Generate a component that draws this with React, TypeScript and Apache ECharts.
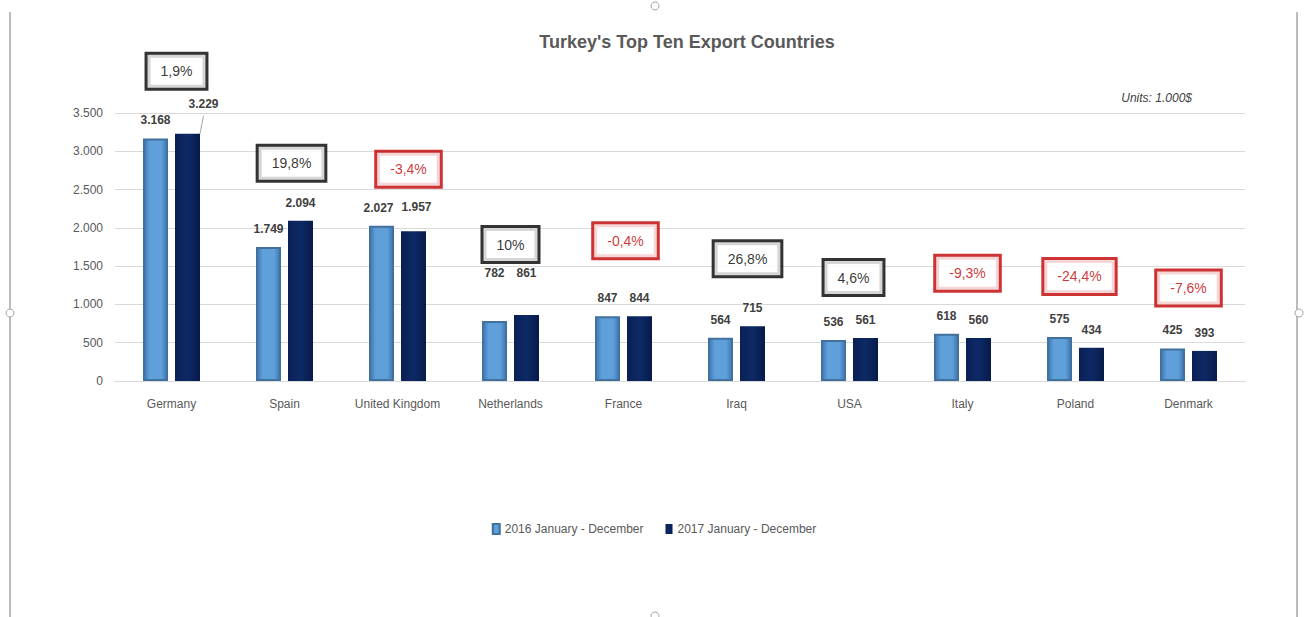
import React, { useEffect, useRef } from "react";
import * as echarts from "echarts";

const categories = ["Germany", "Spain", "United Kingdom", "Netherlands", "France", "Iraq", "USA", "Italy", "Poland", "Denmark"];
const values2016 = [3168, 1749, 2027, 782, 847, 564, 536, 618, 575, 425];
const values2017 = [3229, 2094, 1957, 861, 844, 715, 561, 560, 434, 393];
const changePct = [1.9, 19.8, -3.4, 10, -0.4, 26.8, 4.6, -9.3, -24.4, -7.6];
const yTicks = [0, 500, 1000, 1500, 2000, 2500, 3000, 3500];
const seriesNames = ["2016 January - December", "2017 January - December"];
const titleText = "Turkey's Top Ten Export Countries";
const unitsText = "Units: 1.000$";

const FONT = "'Liberation Sans', Arial, sans-serif";
const BOX_LIFT = 790; // value units above taller bar for the change box
const RED = "#c00000";

// style nudges for individual labels / boxes (pixels)
const labelNudge2016: Record<number, [number, number]> = { 3: [0, -30], 2: [-3, 0] };
const labelNudge2017: Record<number, [number, number]> = { 3: [0, -24], 0: [16, -12], 2: [3, -6] };
const boxNudge: Record<number, [number, number]> = {
  0: [5, -2], 1: [7, 3], 2: [11, 4], 3: [0, -10], 4: [2, -15], 5: [11, -7], 6: [4, 0], 7: [5, 0], 8: [4, 0],
};

function fmtThousands(v: number): string {
  if (v >= 1000) return `${Math.floor(v / 1000)}.${String(v % 1000).padStart(3, "0")}`;
  return String(v);
}
function fmtPct(v: number): string {
  return (Number.isInteger(v) ? String(v) : v.toFixed(1).replace(".", ",")) + "%";
}

export default function App() {
  const ref = useRef<HTMLDivElement>(null);
  useEffect(() => {
    document.body.style.margin = "0";
    const chart = echarts.init(ref.current!, null, { renderer: "svg" });
    const lightColor = new echarts.graphic.LinearGradient(0, 0, 1, 0, [
      { offset: 0, color: "#3c78b4" },
      { offset: 0.25, color: "#5f9fda" },
      { offset: 0.75, color: "#5f9fda" },
      { offset: 1, color: "#3c78b4" },
    ]);
    const darkColor = new echarts.graphic.LinearGradient(0, 0, 1, 0, [
      { offset: 0, color: "#0a1f55" },
      { offset: 0.5, color: "#0d2a66" },
      { offset: 1, color: "#071a4a" },
    ]);
    const labelBase = {
      show: true,
      position: "top" as const,
      distance: 12,
      color: "#404040",
      fontWeight: "bold" as const,
      fontSize: 12,
      fontFamily: FONT,
      formatter: (p: any) => fmtThousands(p.value),
    };
    const mk = (vals: number[], nudges: Record<number, [number, number]>) =>
      vals.map((v, i) => {
        const item: any = { value: v };
        if (nudges[i]) {
          item.label = { offset: nudges[i] };
        }
        return item;
      });
    const d17 = mk(values2017, labelNudge2017);
    d17[0].labelLine = { show: true };

    const boxData = categories.map((c, i) => {
      const neg = changePct[i] < 0;
      const col = neg ? RED : "#000000";
      return {
        value: Math.max(values2016[i], values2017[i]) + BOX_LIFT,
        pct: changePct[i],
        label: {
          color: col,
          borderColor: col,
          offset: boxNudge[i] || [0, 0],
        },
      };
    });

    chart.setOption({
      animation: false,
      backgroundColor: "#ffffff",
      title: {
        text: titleText,
        left: 682,
        textAlign: "center",
        top: 28,
        textStyle: { color: "#595959", fontSize: 18, fontWeight: "bold", fontFamily: FONT },
      },
      legend: {
        data: seriesNames,
        left: "center",
        top: 518,
        itemWidth: 7,
        itemHeight: 10,
        itemGap: 22,
        icon: "rect",
        textStyle: { color: "#595959", fontSize: 12, fontFamily: FONT },
      },
      grid: { left: 115, right: 63, top: 113, bottom: 236, containLabel: false },
      xAxis: {
        type: "category",
        data: categories,
        axisLine: { lineStyle: { color: "#d9d9d9" } },
        axisTick: { show: false },
        axisLabel: { color: "#595959", fontSize: 12, fontFamily: FONT, margin: 17, interval: 0 },
      },
      yAxis: {
        type: "value",
        min: yTicks[0],
        max: yTicks[yTicks.length - 1],
        interval: yTicks[1] - yTicks[0],
        axisLine: { show: false },
        axisTick: { show: false },
        splitLine: { lineStyle: { color: "#d9d9d9" } },
        axisLabel: { color: "#595959", fontSize: 12, fontFamily: FONT, margin: 12, formatter: (v: number) => fmtThousands(v) },
      },
      series: [
        {
          name: seriesNames[0],
          type: "bar",
          barWidth: 25,
          barGap: "28%",
          data: mk(values2016, labelNudge2016),
          itemStyle: { color: lightColor, borderColor: "#41719c", borderWidth: 2 },
          label: labelBase,
        },
        {
          name: seriesNames[1],
          type: "bar",
          barWidth: 25,
          data: d17,
          itemStyle: { color: darkColor },
          label: labelBase,
          labelLine: { lineStyle: { color: "#a6a6a6", width: 1 } },
        },
        {
          name: "change",
          type: "scatter",
          clip: false,
          symbolSize: 1,
          itemStyle: { color: "transparent" },
          silent: true,
          data: boxData,
          z: 5,
          label: {
            show: true,
            position: "inside",
            fontSize: 14,
            fontFamily: FONT,
            textBorderWidth: 0,
            borderWidth: 3,
            padding: [11, 13, 8, 13],
            backgroundColor: "#ffffff",
            formatter: (p: any) => fmtPct(p.data.pct),
          },
        },
      ],
      graphic: [
        {
          type: "text",
          right: 1308 - 1192,
          top: 92,
          style: { text: unitsText, fill: "#404040", font: `italic 12px ${FONT}`, textAlign: "right" },
        },
        { type: "line", shape: { x1: 10, y1: 12, x2: 10, y2: 617 }, style: { stroke: "#a6a6a6", lineWidth: 1.5 } },
        { type: "line", shape: { x1: 1297, y1: 12, x2: 1297, y2: 617 }, style: { stroke: "#a6a6a6", lineWidth: 1.5 } },
        { type: "circle", shape: { cx: 10, cy: 313, r: 4 }, style: { fill: "#ffffff", stroke: "#a6a6a6", lineWidth: 1 } },
        { type: "circle", shape: { cx: 1299, cy: 313, r: 4 }, style: { fill: "#ffffff", stroke: "#a6a6a6", lineWidth: 1 } },
        { type: "circle", shape: { cx: 655, cy: 6, r: 4 }, style: { fill: "#ffffff", stroke: "#a6a6a6", lineWidth: 1 } },
        { type: "circle", shape: { cx: 655, cy: 616, r: 4 }, style: { fill: "#ffffff", stroke: "#a6a6a6", lineWidth: 1 } },
      ],
    });
    return () => chart.dispose();
  }, []);
  return <div ref={ref} style={{ position: "absolute", left: 0, top: 0, width: 1308, height: 617 }} />;
}
